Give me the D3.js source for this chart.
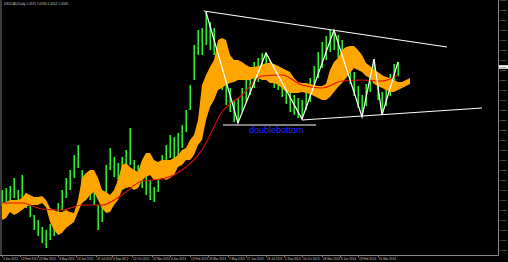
<!DOCTYPE html>
<html>
<meta charset="utf-8" />
<title>USDCAD Daily</title>
<head>
    <script src="https://d3js.org/d3.v7.min.js"></script>
    <style>
        body { margin: 0; background: #000; overflow: hidden; }
        svg text { font-family: "Liberation Sans", Arial, sans-serif; }
    </style>
</head>
<body>
    <div id="chart"></div>

    <script type="text/javascript">
        // daily bars, high / low per bar
        var highs = [0.9950, 0.9960, 0.9970, 1.0010, 0.9950, 1.0025, 0.9935, 0.9885, 0.9825, 0.9800,
                     0.9765, 0.9750, 0.9780, 0.9820, 0.9885, 0.9950, 1.0010, 1.0050, 1.0125, 1.0175,
                     1.0050, 0.9990, 0.9975, 0.9960, 0.9875, 0.9900, 1.0075, 1.0160, 1.0115, 1.0085,
                     1.0115, 1.0150, 1.0260, 1.0100, 1.0075, 1.0060, 1.0025, 1.0000, 0.9965, 1.0050,
                     1.0125, 1.0175, 1.0225, 1.0215, 1.0235, 1.0275, 1.0350, 1.0475, 1.0675, 1.0750,
                     1.0760, 1.0840, 1.0790, 1.0760, 1.0660, 1.0590, 1.0510, 1.0460, 1.0400, 1.0410,
                     1.0460, 1.0510, 1.0550, 1.0590, 1.0610, 1.0635, 1.0635, 1.0600, 1.0580, 1.0570,
                     1.0525, 1.0490, 1.0460, 1.0425, 1.0410, 1.0400, 1.0460, 1.0510, 1.0570, 1.0640,
                     1.0690, 1.0720, 1.0750, 1.0750, 1.0725, 1.0700, 1.0660, 1.0600, 1.0540, 1.0470,
                     1.0425, 1.0480, 1.0560, 1.0605, 1.0520, 1.0440, 1.0480, 1.0530, 1.0580, 1.0590];
        var lows  = [0.9870, 0.9880, 0.9900, 0.9910, 0.9885, 0.9900, 0.9860, 0.9815, 0.9750, 0.9720,
                     0.9685, 0.9660, 0.9700, 0.9720, 0.9780, 0.9850, 0.9910, 0.9950, 1.0010, 1.0060,
                     0.9940, 0.9910, 0.9900, 0.9875, 0.9750, 0.9790, 0.9925, 1.0050, 1.0015, 0.9990,
                     1.0010, 1.0040, 1.0075, 1.0000, 0.9965, 0.9960, 0.9925, 0.9900, 0.9890, 0.9940,
                     1.0010, 1.0075, 1.0110, 1.0100, 1.0115, 1.0160, 1.0240, 1.0350, 1.0500, 1.0625,
                     1.0625, 1.0675, 1.0650, 1.0625, 1.0525, 1.0450, 1.0375, 1.0340, 1.0290, 1.0285,
                     1.0340, 1.0390, 1.0425, 1.0460, 1.0490, 1.0525, 1.0510, 1.0490, 1.0460, 1.0450,
                     1.0415, 1.0380, 1.0340, 1.0325, 1.0310, 1.0305, 1.0350, 1.0390, 1.0450, 1.0510,
                     1.0560, 1.0600, 1.0640, 1.0650, 1.0610, 1.0575, 1.0540, 1.0480, 1.0420, 1.0360,
                     1.0315, 1.0370, 1.0440, 1.0490, 1.0400, 1.0325, 1.0370, 1.0420, 1.0470, 1.0520];

        // ichimoku cloud, shifted forward (so a few more entries than bars)
        var spanA = [0.9885, 0.9890, 0.9900, 0.9900, 0.9900, 0.9910, 0.9935, 0.9925, 0.9915, 0.9915,
                     0.9920, 0.9900, 0.9860, 0.9850, 0.9840, 0.9840, 0.9850, 0.9840, 0.9835, 0.9900,
                     1.0010, 1.0035, 1.0050, 1.0050, 1.0010, 0.9950, 0.9940, 0.9925, 0.9950, 1.0000,
                     1.0075, 1.0085, 1.0065, 1.0050, 1.0040, 1.0100, 1.0135, 1.0135, 1.0100, 1.0090,
                     1.0100, 1.0100, 1.0100, 1.0110, 1.0125, 1.0150, 1.0160, 1.0200, 1.0225, 1.0300,
                     1.0475, 1.0525, 1.0565, 1.0600, 1.0700, 1.0710, 1.0700, 1.0625, 1.0600, 1.0600,
                     1.0590, 1.0575, 1.0565, 1.0565, 1.0570, 1.0575, 1.0585, 1.0585, 1.0580, 1.0570,
                     1.0560, 1.0550, 1.0540, 1.0510, 1.0490, 1.0485, 1.0485, 1.0480, 1.0475, 1.0470,
                     1.0470, 1.0480, 1.0550, 1.0590, 1.0610, 1.0650, 1.0665, 1.0670, 1.0670, 1.0650,
                     1.0625, 1.0585, 1.0570, 1.0550, 1.0540, 1.0525, 1.0515, 1.0510, 1.0500, 1.0490,
                     1.0490, 1.0500, 1.0510];
        var spanB = [0.9800, 0.9810, 0.9840, 0.9825, 0.9835, 0.9850, 0.9865, 0.9875, 0.9875, 0.9875,
                     0.9885, 0.9865, 0.9790, 0.9750, 0.9725, 0.9735, 0.9760, 0.9775, 0.9790, 0.9840,
                     0.9885, 0.9900, 0.9925, 0.9940, 0.9900, 0.9860, 0.9835, 0.9840, 0.9875, 0.9900,
                     0.9950, 0.9960, 0.9965, 0.9950, 0.9960, 1.0000, 1.0015, 1.0025, 1.0000, 1.0000,
                     1.0010, 1.0000, 1.0010, 1.0025, 1.0065, 1.0075, 1.0100, 1.0100, 1.0125, 1.0175,
                     1.0200, 1.0300, 1.0365, 1.0400, 1.0450, 1.0460, 1.0475, 1.0485, 1.0490, 1.0500,
                     1.0500, 1.0500, 1.0500, 1.0510, 1.0510, 1.0500, 1.0500, 1.0485, 1.0485, 1.0475,
                     1.0460, 1.0440, 1.0435, 1.0435, 1.0435, 1.0440, 1.0435, 1.0430, 1.0420, 1.0410,
                     1.0400, 1.0400, 1.0415, 1.0440, 1.0465, 1.0485, 1.0510, 1.0535, 1.0560, 1.0550,
                     1.0540, 1.0520, 1.0510, 1.0480, 1.0470, 1.0460, 1.0450, 1.0440, 1.0440, 1.0450,
                     1.0460, 1.0470, 1.0480];

        // moving average, sampled at these bar numbers
        var maBars = [0, 5, 10, 15, 20, 25, 30, 35, 40, 45, 50, 55, 60, 65, 70, 75, 80, 85, 90, 95, 99];
        var maVals = [0.9885, 0.9885, 0.9855, 0.9850, 0.9875, 0.9875, 0.9925, 0.9995, 1.0005, 1.0050,
                      1.0150, 1.0340, 1.0425, 1.0520, 1.0525, 1.0475, 1.0460, 1.0495, 1.0500, 1.0495, 1.0525];

        // zigzag swing points
        var zigBars = [51, 59, 66, 75, 83, 90, 93, 95, 99];
        var zigVals = [1.0840, 1.0285, 1.0635, 1.0305, 1.0750, 1.0315, 1.0605, 1.0325, 1.0590];

        // hand drawn lines: [bar, price] pairs
        var topLine    = [[50.5, 1.0845], [111.25, 1.0665]];
        var bottomLine = [[75, 1.0300], [120, 1.0360]];
        var doubleLine = [[55.25, 1.0275], [78.5, 1.0275]];
        var noteText = "doublebottom", noteBar = 61.75, notePrice = 1.0235;

        var dateBars = [0, 4.5, 9, 14, 18.5, 23.5, 27.5, 32.5, 37.5, 42, 47,
                        51.5, 56.5, 61, 66, 70.5, 75, 80, 84.5, 89, 94];
        var dateLabels = ["3 Jan 2012", "13 Feb 2012", "22 Mar 2012", "3 May 2012", "13 Jun 2012",
                          "24 Jul 2012", "3 Sep 2012", "12 Oct 2012", "22 Nov 2012", "3 Jan 2013",
                          "13 Feb 2013", "26 Mar 2013", "7 May 2013", "17 Jun 2013", "26 Jul 2013",
                          "5 Sep 2013", "16 Oct 2013", "26 Nov 2013", "8 Jan 2014", "18 Feb 2014",
                          "31 Mar 2014"];
        var priceTicks = [0.9650, 0.9700, 0.9750, 0.9800, 0.9850, 0.9900, 0.9950, 1.0000, 1.0050,
                          1.0100, 1.0150, 1.0200, 1.0250, 1.0300, 1.0350, 1.0400, 1.0450, 1.0500,
                          1.0550, 1.0600, 1.0650, 1.0700, 1.0750, 1.0800, 1.0850, 1.0900];
        var lastPrice = 1.0565;
        var titleText = "USDCAD,Daily  1.0571 1.0590 1.0552 1.0565";

        const W = 508, H = 262,
            plotRight = 498, plotBottom = 255;

        var svg = d3.select("#chart").append("svg")
            .attr("width", W + "px")
            .attr("height", H + "px")
            .style("background", "#000");

        var x = d3.scaleLinear().domain([0, 124]).range([2, plotRight]);
        var y = d3.scaleLinear().domain([0.9625, 1.0900]).range([plotBottom, 0]);

        // bars: dark body with a bright stroke
        var bars = svg.append("g");
        bars.selectAll("rect")
            .data(highs)
            .enter()
            .append("rect")
            .attr("x", function(d, i) { return x(i) - 1.1; })
            .attr("y", function(d) { return y(d); })
            .attr("width", 2.2)
            .attr("height", function(d, i) { return y(lows[i]) - y(d); })
            .style("fill", "#008800");
        bars.selectAll("line")
            .data(highs)
            .enter()
            .append("line")
            .attr("x1", function(d, i) { return x(i) + 0.4; })
            .attr("x2", function(d, i) { return x(i) + 0.4; })
            .attr("y1", function(d) { return y(d); })
            .attr("y2", function(d, i) { return y(lows[i]); })
            .style("stroke", "#44ff44")
            .style("stroke-width", 0.9);

        // cloud
        var cloud = d3.area()
            .x(function(d, i) { return x(i); })
            .y0(function(d, i) { return y(spanB[i]); })
            .y1(function(d) { return y(d); });
        svg.append("path")
            .datum(spanA)
            .attr("d", cloud)
            .style("fill", "#ffa500");

        // moving average
        var maLine = d3.line()
            .x(function(d, i) { return x(maBars[i]); })
            .y(function(d) { return y(d); })
            .curve(d3.curveMonotoneX);
        svg.append("path")
            .datum(maVals)
            .attr("d", maLine)
            .style("fill", "none")
            .style("stroke", "#e01010")
            .style("stroke-width", 1.1);

        // zigzag + trend lines
        var zig = d3.line()
            .x(function(d, i) { return x(zigBars[i]); })
            .y(function(d) { return y(d); });
        svg.append("path")
            .datum(zigVals)
            .attr("d", zig)
            .style("fill", "none")
            .style("stroke", "#fff")
            .style("stroke-width", 1.2);

        var seg = d3.line()
            .x(function(d) { return x(d[0]); })
            .y(function(d) { return y(d[1]); });
        [topLine, bottomLine, doubleLine].forEach(function(l) {
            svg.append("path")
                .datum(l)
                .attr("d", seg)
                .style("fill", "none")
                .style("stroke", "#fff")
                .style("stroke-width", 1.2);
        });

        svg.append("text")
            .attr("x", x(noteBar))
            .attr("y", y(notePrice))
            .style("font-size", "9px")
            .style("fill", "#2a2aff")
            .text(noteText);

        // frame
        svg.append("line")
            .attr("x1", 1).attr("x2", 1).attr("y1", 0).attr("y2", plotBottom)
            .style("stroke", "#777").style("stroke-width", 1);

        // price axis
        var yAxis = svg.append("g")
            .attr("transform", "translate(" + plotRight + ",0)")
            .call(d3.axisRight(y).tickValues(priceTicks).tickSize(1).tickPadding(0.8)
                .tickFormat(d3.format(".4f")));
        yAxis.select(".domain").style("stroke", "#888");
        yAxis.selectAll(".tick line").style("stroke", "#888");
        yAxis.selectAll("text").style("font-size", "2.2px").style("fill", "#c8c8c8");

        // date axis
        var xAxis = svg.append("g")
            .attr("transform", "translate(0," + plotBottom + ")")
            .call(d3.axisBottom(x).tickValues(dateBars).tickSize(2).tickPadding(1)
                .tickFormat(function(d, i) { return dateLabels[i]; }));
        xAxis.select(".domain").attr("d", "M0,0.5H" + plotRight).style("stroke", "#888");
        xAxis.selectAll(".tick line").style("stroke", "#888");
        xAxis.selectAll("text").attr("text-anchor", "start").attr("dx", 0.5)
            .style("font-size", "3px").style("fill", "#c8c8c8");

        // current price marker
        svg.append("rect")
            .attr("x", plotRight + 1).attr("y", y(lastPrice) - 1.8)
            .attr("width", 9).attr("height", 3.6)
            .style("fill", "#fff");
        svg.append("text")
            .attr("x", plotRight + 1.4).attr("y", y(lastPrice) + 0.8)
            .style("font-size", "2.2px").style("fill", "#000")
            .text(d3.format(".4f")(lastPrice));

        svg.append("text")
            .attr("x", 4).attr("y", 5)
            .style("font-size", "3.2px").style("fill", "#c8c8c8")
            .text(titleText);
    </script>
</body>
</html>
